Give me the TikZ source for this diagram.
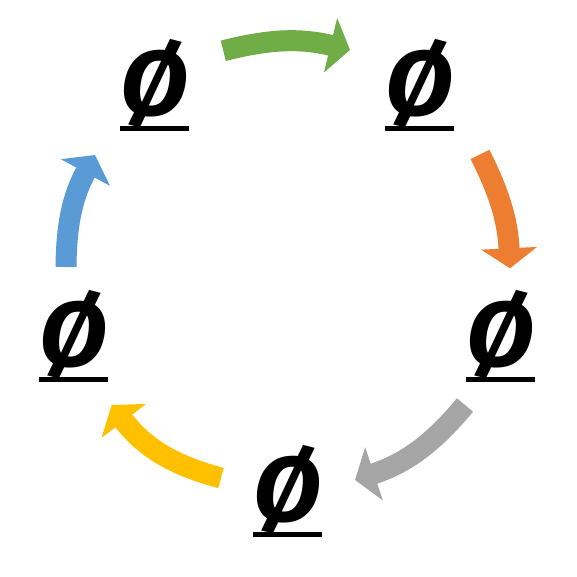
\documentclass[tikz,border=0pt]{standalone}
\usepackage{fontspec}
\setmainfont[FakeStretch=1.08]{Fira Sans}
\usetikzlibrary{arrows.meta}
\definecolor{cgreen}{HTML}{70AD47}
\definecolor{corange}{HTML}{ED7D31}
\definecolor{cgray}{HTML}{A5A5A5}
\definecolor{cyellow}{HTML}{FFC000}
\definecolor{cblue}{HTML}{5B9BD5}
\newcommand\ulmark[1]{\vtop{\hbox to 69pt{\hss\raisebox{0pt}[\height][0pt]{#1}\hss}\kern 10pt\hrule height 5pt}}
\begin{document}
\begin{tikzpicture}[
    x=1pt, y=1pt,
    sym/.style={inner sep=0pt, anchor=base, font=\fontsize{92}{96}\selectfont\bfseries\itshape},
    flow/.style={line width=21pt, line cap=butt, -{Triangle[width=55pt,length=20pt]}}
]
    \useasboundingbox (0,0) rectangle (577,577);

    % Symbols
    \node [sym] (tl) at (154.5,461) {\ulmark{Ø}};
    \node [sym] (tr) at (419,461) {\ulmark{Ø}};
    \node [sym] (rt) at (500,210) {\ulmark{Ø}};
    \node [sym] (bt) at (287.5,55) {\ulmark{Ø}};
    \node [sym] (lt) at (73,210) {\ulmark{Ø}};

    % Arrow ends
    \coordinate (g-tail) at (223.3,526.2);
    \coordinate (g-tip) at (350,527);
    \coordinate (o-tail) at (480,422.5);
    \coordinate (o-tip) at (510,308.7);
    \coordinate (s-tail) at (465,172);
    \coordinate (s-tip) at (355,97);
    \coordinate (y-tail) at (221,99);
    \coordinate (y-tip) at (111.7,172);
    \coordinate (b-tail) at (66,310);
    \coordinate (b-tip) at (95,422);

    % Arrows
    \draw [flow, cgreen] (g-tail) to[bend left=14] (g-tip);
    \draw [flow, corange] (o-tail) to[bend left=12] (o-tip);
    \draw [flow, cgray] (s-tail) to[bend left=16] (s-tip);
    \draw [flow, cyellow] (y-tail) to[bend left=19] (y-tip);
    \draw [flow, cblue] (b-tail) to[bend left=14] (b-tip);
\end{tikzpicture}
\end{document}
